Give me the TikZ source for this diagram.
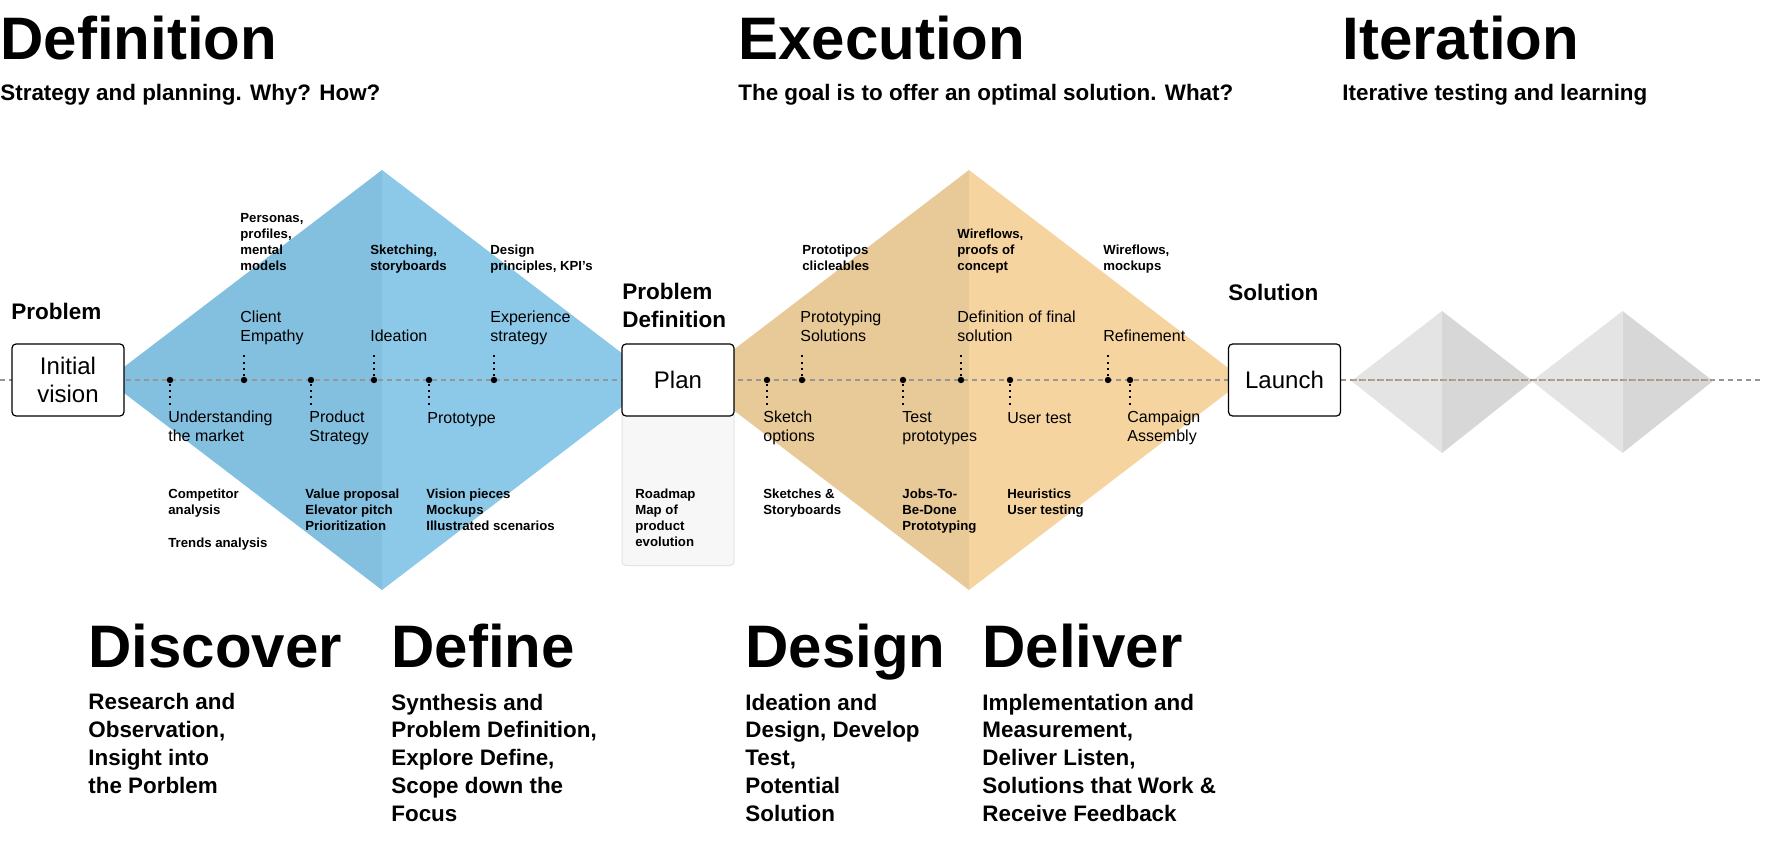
\documentclass[tikz,border=0pt]{standalone}
\usepackage{fontspec}
\setmainfont{Liberation Sans}
\usetikzlibrary{calc}

\definecolor{discoverL}{RGB}{131,192,223}
\definecolor{discoverR}{RGB}{140,200,231}
\definecolor{designL}{RGB}{232,201,152}
\definecolor{designR}{RGB}{245,212,160}
\definecolor{iterL}{RGB}{228,228,228}
\definecolor{iterR}{RGB}{215,215,215}
\definecolor{axisgray}{RGB}{150,150,150}
\definecolor{axistan}{RGB}{186,162,128}

\begin{document}
\begin{tikzpicture}
	[x=0.5pt,y=-0.5pt,
	 stage/.style={anchor=base west,inner sep=0pt,font=\bfseries\fontsize{30}{36}\selectfont},
	 tagline/.style={anchor=base west,inner sep=0pt,align=left,font=\bfseries\fontsize{11.2}{13.85}\selectfont},
	 milestone/.style={anchor=base west,inner sep=0pt,align=left,font=\bfseries\fontsize{11.25}{14}\selectfont},
	 activity/.style={anchor=base west,inner sep=0pt,align=left,font=\fontsize{8}{9.5}\selectfont},
	 toolset/.style={anchor=base west,inner sep=0pt,align=left,font=\bfseries\fontsize{6.6}{8}\selectfont},
	 phasebox/.style={draw=black,line width=0.6pt,rounded corners=2pt,fill=white,
		minimum width=56pt,minimum height=36pt,inner sep=0pt,align=center,font=\fontsize{12}{14}\selectfont},
	 panel/.style={draw={rgb,255:red,228;green,228;blue,228},fill={rgb,255:red,247;green,247;blue,247},
		line width=0.5pt,rounded corners=2pt,minimum width=56pt,minimum height=77.5pt,inner sep=0pt},
	 timeline/.style={line width=0.75pt,dash pattern=on 2.5pt off 2pt},
	 bullet/.style={circle,fill=black,inner sep=0pt,minimum size=3.2pt},
	 stub/.style={line width=1pt,dash pattern=on 1pt off 2.2pt}]
	\useasboundingbox (0,0) rectangle (1772,855);

	% centres of the diamonds
	\coordinate (discover) at (382,380);
	\coordinate (design) at (969,380);
	\coordinate (iterA) at (1442,381);
	\coordinate (iterB) at (1622.5,381);

	%
	% double diamond
	%
	\fill[discoverL] ($(discover)+(-275,0)$) -- ($(discover)+(0,-210)$) -- ($(discover)+(0,210)$) -- cycle;
	\fill[discoverR] ($(discover)+(275,0)$) -- ($(discover)+(0,-210)$) -- ($(discover)+(0,210)$) -- cycle;
	\fill[designL] ($(design)+(-275,0)$) -- ($(design)+(0,-210)$) -- ($(design)+(0,210)$) -- cycle;
	\fill[designR] ($(design)+(275,0)$) -- ($(design)+(0,-210)$) -- ($(design)+(0,210)$) -- cycle;

	% iteration diamonds
	\foreach \c in {iterA,iterB} {
		\fill[iterL] ($(\c)+(-90.5,0)$) -- ($(\c)+(0,-70)$) -- ($(\c)+(0,72)$) -- cycle;
		\fill[iterR] ($(\c)+(90.5,0)$) -- ($(\c)+(0,-70)$) -- ($(\c)+(0,72)$) -- cycle;
	}

	% time line
	\coordinate (lineW) at (0,380);
	\coordinate (lineE) at (1762,380);
	\draw[timeline,axisgray] (lineW) -- (lineE);
	\draw[timeline,axistan] ($(iterA)+(-90.5,-1)$) -- ($(iterB)+(90.5,-1)$);

	%
	% phases
	%
	\node[panel,anchor=north] (planpanel) at (678,410) {};
	\node[phasebox] (vision) at (68,380) {Initial\\vision};
	\node[phasebox] (plan) at (678,380) {Plan};
	\node[phasebox] (launch) at (1284.5,380) {Launch};

	\node[milestone] (problem) at (11,320) {Problem};
	\node[milestone] (probdef) at (622,328) {Problem\\Definition};
	\node[milestone] (solution) at (1228,301) {Solution};

	% milestones on the line
	\foreach \n/\x/\s in {und/170/1,emp/244/-1,prod/311/1,idea/374/-1,proto/429/1,exp/494/-1,
		sketch/767/1,protsol/802/-1,test/903/1,final/961/-1,user/1010/1,refine/1108/-1,camp/1130/1} {
		\node[bullet] (dot\n) at (\x,380) {};
		\coordinate (tip\n) at (\x,380+27*\s);
		\draw[stub] (dot\n) -- (tip\n);
	}

	% activities (anchored on the last line)
	\node[activity] (undl) at (168,442) {Understanding\\the market};
	\node[activity] (empl) at (240,342) {Client\\Empathy};
	\node[activity] (prodl) at (309,442) {Product\\Strategy};
	\node[activity] (ideal) at (370,342) {Ideation};
	\node[activity] (protol) at (427,423) {Prototype};
	\node[activity] (expl) at (490,342) {Experience\\strategy};
	\node[activity] (sketchl) at (763,442) {Sketch\\options};
	\node[activity] (protsoll) at (800,342) {Prototyping\\Solutions};
	\node[activity] (testl) at (902,442) {Test\\prototypes};
	\node[activity] (finall) at (957,342) {Definition of final\\solution};
	\node[activity] (userl) at (1007,423) {User test};
	\node[activity] (refinel) at (1103,342) {Refinement};
	\node[activity] (campl) at (1127,442) {Campaign\\Assembly};

	% deliverables
	\node[toolset] (personas) at (240,271) {Personas,\\profiles,\\mental\\models};
	\node[toolset] (sketching) at (370,271) {Sketching,\\storyboards};
	\node[toolset] (principles) at (490,271) {Design\\principles, KPI’s};
	\node[toolset] (clicks) at (802,271) {Prototipos\\clicleables};
	\node[toolset] (proofs) at (957,271) {Wireflows,\\proofs of\\concept};
	\node[toolset] (mockups) at (1103,271) {Wireflows,\\mockups};

	\node[toolset] (competitor) at (168,514) {Competitor\\analysis};
	\node[toolset] (trends) at (168,547) {Trends analysis};
	\node[toolset] (value) at (305,530) {Value proposal\\Elevator pitch\\Prioritization};
	\node[toolset] (visionpieces) at (426,530) {Vision pieces\\Mockups\\Illustrated scenarios};
	\node[toolset] (roadmap) at (635,546) {Roadmap\\Map of\\product\\evolution};
	\node[toolset] (sketches) at (763,514) {Sketches \&\\Storyboards};
	\node[toolset] (jobs) at (902,530) {Jobs-To-\\Be-Done\\Prototyping};
	\node[toolset] (heuristics) at (1007,514) {Heuristics\\User testing};

	%
	% headings
	%
	\node[stage] (definitionH) at (0,60) {Definition};
	\node[tagline] (definitionS) at (0,101) {Strategy and planning. Why? How?};
	\node[stage] (executionH) at (738,60) {Execution};
	\node[tagline] (executionS) at (738,101) {The goal is to offer an optimal solution. What?};
	\node[stage] (iterationH) at (1342,60) {Iteration};
	\node[tagline] (iterationS) at (1342,101) {Iterative testing and learning};

	\node[stage] (discoverH) at (88,667) {Discover};
	\node[tagline] (discoverS) at (88,793) {Research and\\Observation,\\Insight into\\the Porblem};
	\node[stage] (defineH) at (391,667) {Define};
	\node[tagline] (defineS) at (391,821) {Synthesis and\\Problem Definition,\\Explore Define,\\Scope down the\\Focus};
	\node[stage] (designH) at (745,667) {Design};
	\node[tagline] (designS) at (745,821) {Ideation and\\Design, Develop\\Test,\\Potential\\Solution};
	\node[stage] (deliverH) at (982,667) {Deliver};
	\node[tagline] (deliverS) at (982,821) {Implementation and\\Measurement,\\Deliver Listen,\\Solutions that Work \&\\Receive Feedback};
\end{tikzpicture}
\end{document}
